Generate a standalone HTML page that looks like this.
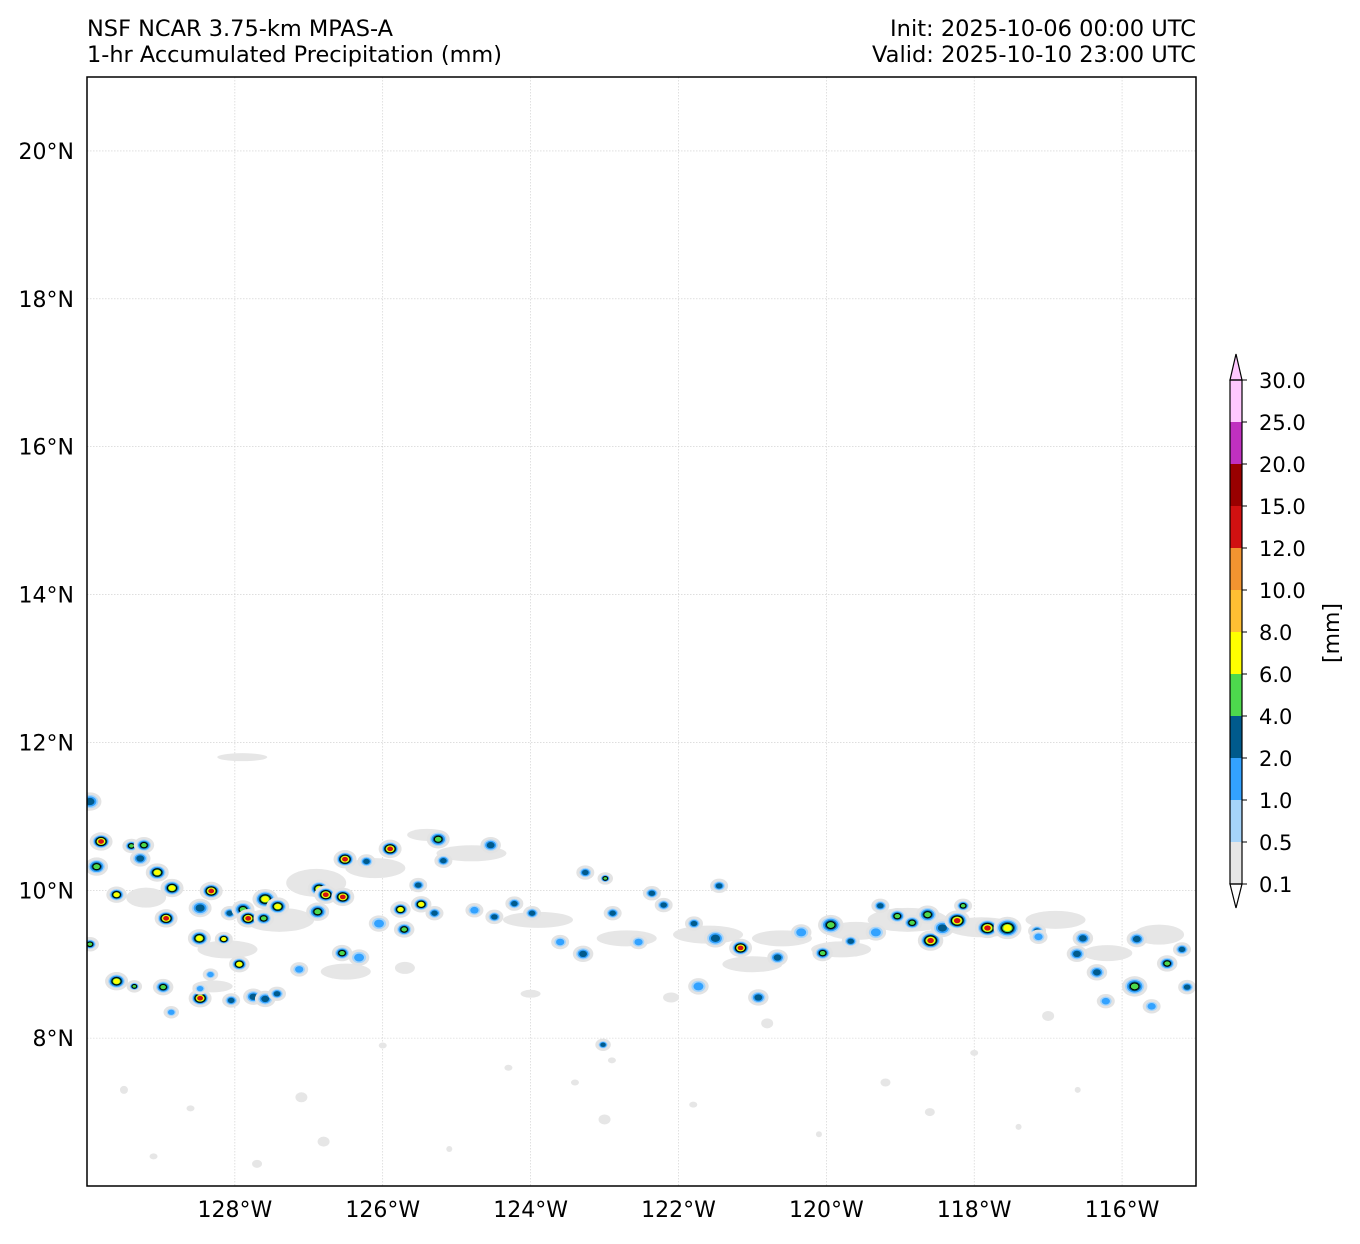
<!DOCTYPE html>
<html><head><meta charset="utf-8"><style>
body{margin:0;background:#fff;}
svg text{font-family:"DejaVu Sans","Liberation Sans",sans-serif;fill:#000;}
</style></head><body>
<svg id="chart" width="1360" height="1239" xmlns="http://www.w3.org/2000/svg">
<rect width="1360" height="1239" fill="#fff"/>
<text x="87" y="36" font-size="22" textLength="306" lengthAdjust="spacingAndGlyphs">NSF NCAR 3.75-km MPAS-A</text>
<text x="87" y="62" font-size="22" textLength="415" lengthAdjust="spacingAndGlyphs">1-hr Accumulated Precipitation (mm)</text>
<text x="890" y="36" font-size="22" textLength="306" lengthAdjust="spacingAndGlyphs">Init: 2025-10-06 00:00 UTC</text>
<text x="872" y="62" font-size="22" textLength="324" lengthAdjust="spacingAndGlyphs">Valid: 2025-10-10 23:00 UTC</text>
<defs><clipPath id="plotclip"><rect x="87" y="77" width="1109" height="1109"/></clipPath></defs>
<g id="grid"></g>
<g id="precip" clip-path="url(#plotclip)"></g>
<rect x="87" y="77" width="1109" height="1109" fill="none" stroke="#000" stroke-width="1.5"/>
<g id="axes"></g>
<g id="cbar"></g>
<text font-size="22" transform="translate(1339,633) rotate(-90)" text-anchor="middle">[mm]</text>
</svg>
<script>
const latTicks=[8,10,12,14,16,18,20];
const lonTicks=[128,126,124,122,120,118,116];
const cbLevels=["0.1","0.5","1.0","2.0","4.0","6.0","8.0","10.0","12.0","15.0","20.0","25.0","30.0"];
const cbColors=["#e6e6e6","#a6d4fa","#33a2ff","#005a8c","#4dd94d","#ffff00","#ffbf33","#f29430","#d11111","#990000","#c030c0","#ffc8ff"];
const levelColors=["#e3e3e3","#a6d4fa","#33a2ff","#005a8c","#4dd94d","#ffff00","#d11111"];
const blobLon=[129.96,129.81,129.87,129.6,129.4,129.23,129.28,129.05,128.85,128.93,128.48,128.32,128.47,128.15,128.07,127.89,127.82,127.59,127.42,127.61,126.86,126.88,126.77,126.54,126.51,126.55,125.9,126.22,125.76,125.71,125.52,125.48,125.25,125.18,124.54,125.3,124.76,124.49,124.22,123.98,123.26,122.99,123.29,122.89,122.36,122.2,121.79,121.45,121.5,121.16,120.92,120.66,120.05,119.94,119.67,119.27,119.04,118.84,118.59,118.63,118.43,118.23,118.15,117.82,117.55,117.15,116.53,116.61,116.34,115.8,115.83,115.39,115.19,115.12,127.94,129.6,129.36,128.97,128.47,128.05,127.75,127.59,127.43,123.02,128.33,129.96,128.47,128.86,127.13,126.32,126.05,123.6,122.54,121.73,120.34,119.33,117.13,116.22,115.6];
const blobLat=[11.2,10.66,10.32,9.94,10.6,10.61,10.43,10.24,10.03,9.62,9.35,9.99,9.76,9.34,9.69,9.74,9.62,9.88,9.78,9.62,10.02,9.71,9.94,9.91,10.42,9.15,10.56,10.39,9.74,9.47,10.07,9.81,10.69,10.4,10.61,9.69,9.73,9.64,9.82,9.69,10.24,10.16,9.14,9.69,9.96,9.8,9.55,10.06,9.35,9.22,8.55,9.09,9.15,9.53,9.31,9.79,9.65,9.56,9.32,9.67,9.49,9.59,9.79,9.49,9.49,9.45,9.35,9.14,8.89,9.34,8.7,9.01,9.2,8.69,9.0,8.77,8.7,8.69,8.54,8.51,8.56,8.53,8.6,7.91,8.86,9.27,8.67,8.35,8.93,9.09,9.55,9.3,9.3,8.7,9.43,9.43,9.37,8.5,8.43];
const blobLevel=[4,7,5,6,5,5,4,6,6,7,6,7,4,6,4,5,7,6,6,5,6,5,7,7,7,5,7,4,6,5,4,6,5,4,4,4,3,4,4,4,4,5,4,4,4,4,4,4,4,7,4,4,5,5,4,4,5,5,7,5,4,7,5,7,6,4,4,4,4,4,5,5,4,4,6,6,5,5,7,4,4,4,4,4,3,5,3,3,3,3,3,3,3,3,3,3,3,3,3];
const blobSize=[6,6,6,5,4,5,5,6,6,6,6,6,6,4,4,6,6,7,6,5,6,6,6,6,6,5,6,4,5,5,4,5,6,4,5,4,4,4,4,4,4,3,5,4,4,4,4,4,6,6,5,5,5,7,4,4,5,5,7,6,6,7,4,7,8,4,5,5,5,5,7,5,4,4,5,6,3,5,6,4,5,5,4,3,3,4,3,3,4,5,5,4,4,5,5,5,4,4,4];
const grayLon=[116.9,117.9,118.9,119.6,120.6,121.6,122.7,123.9,124.8,126.1,126.9,127.4,128.1,129.2,115.5,125.4,127.9,126.5,121.0,119.8,116.2,128.3,124.0,117.0,120.8,122.1,125.7,127.1,129.5,118.6,123.0,126.8,124.3,121.8,119.2,117.4,128.6,126.0,122.9,120.1,118.0,116.6,129.1,127.7,125.1,123.4];
const grayLat=[9.6,9.5,9.6,9.45,9.35,9.4,9.35,9.6,10.5,10.3,10.1,9.6,9.2,9.9,9.4,10.75,11.8,8.9,9.0,9.2,9.15,8.7,8.6,8.3,8.2,8.55,8.95,7.2,7.3,7.0,6.9,6.6,7.6,7.1,7.4,6.8,7.05,7.9,7.7,6.7,7.8,7.3,6.4,6.3,6.5,7.4];
const grayW=[30,35,40,30,30,35,30,35,35,30,30,35,30,20,25,20,25,25,30,30,25,20,10,6,6,8,10,6,4,5,6,6,4,4,5,3,4,4,4,3,4,3,4,5,3,4];
const grayH=[9,10,12,9,8,9,8,8,8,10,14,12,9,10,10,6,4,8,8,8,8,6,4,5,5,5,6,5,4,4,5,5,3,3,4,3,3,3,3,3,3,3,3,4,3,3];

const X0=87,X1=1196,Y0=77,Y1=1186;
const LONW0=130.0,LONW1=115.0,LAT0=21.0,LAT1=6.0;
function xs(lonW){return X0+(LONW0-lonW)/(LONW0-LONW1)*(X1-X0);}
function ys(lat){return Y0+(LAT0-lat)/(LAT0-LAT1)*(Y1-Y0);}
const NS="http://www.w3.org/2000/svg";
function mk(tag,attrs,parent){const e=document.createElementNS(NS,tag);for(const k in attrs)e.setAttribute(k,attrs[k]);parent.appendChild(e);return e;}

const grid=document.getElementById('grid'),axes=document.getElementById('axes');
latTicks.forEach(v=>{const y=ys(v);
 const l=mk('line',{x1:X0,x2:X1,y1:y,y2:y,stroke:'#cccccc','stroke-width':0.6,'stroke-dasharray':'1.5,1.5'},grid);
 
 
 const t=mk('text',{x:74,y:y+8,'font-size':22,'text-anchor':'end'},axes);t.textContent=v+'°N';
 
 
});
lonTicks.forEach(v=>{const x=xs(v);
 const l=mk('line',{x1:x,x2:x,y1:Y0,y2:Y1,stroke:'#cccccc','stroke-width':0.6,'stroke-dasharray':'1.5,1.5'},grid);
 
 
 const t=mk('text',{x:x,y:1217,'font-size':22,'text-anchor':'middle'},axes);t.textContent=v+'°W';
 
 
});

const pr=document.getElementById('precip');
grayLon.forEach((lo,i)=>{
 const e=mk('ellipse',{cx:xs(lo),cy:ys(grayLat[i]),rx:grayW[i],ry:grayH[i],fill:'#e6e6e6'},pr);
 
 
});
blobLon.forEach((lo,i)=>{
 const cx=xs(lo),cy=ys(blobLat[i]),L=blobLevel[i],s=blobSize[i]*1.25;
 const g=mk('g',{},pr);
 
 
 for(let l=1;l<=L;l++){
  const rx=l===1? s+4 : s*(L-l+2)/L+0.8;
  const attrs={cx:cx,cy:cy,rx:rx,ry:rx*0.8,fill:levelColors[l-1]};
  if(l===5){attrs.stroke='#000';attrs['stroke-width']=1;}
  mk('ellipse',attrs,g);
 }
});

const cb=document.getElementById('cbar');
const CX=1230,CW=12,CB0=884,STEP=42;
cbColors.forEach((c,i)=>{
 const r=mk('rect',{x:CX,y:CB0-(i+1)*STEP,width:CW,height:STEP,fill:c},cb);
 
 
});
const topY=CB0-cbColors.length*STEP;
mk('polygon',{points:`${CX},${topY} ${CX+CW/2},${topY-26} ${CX+CW},${topY}`,fill:'#ffc8ff',stroke:'#000','stroke-width':1.2},cb);
mk('polygon',{points:`${CX},${CB0} ${CX+CW/2},${CB0+24} ${CX+CW},${CB0}`,fill:'#ffffff',stroke:'#000','stroke-width':1.2},cb);
mk('rect',{x:CX,y:topY,width:CW,height:CB0-topY,fill:'none',stroke:'#000','stroke-width':1.2},cb);
cbLevels.forEach((v,i)=>{const y=CB0-i*STEP;
 mk('line',{x1:CX+CW,x2:CX+CW+5,y1:y,y2:y,stroke:'#000','stroke-width':1},cb);
 const t=mk('text',{x:1259,y:y+8,'font-size':21},cb);t.textContent=v;
 
 
});
</script>
</body></html>
